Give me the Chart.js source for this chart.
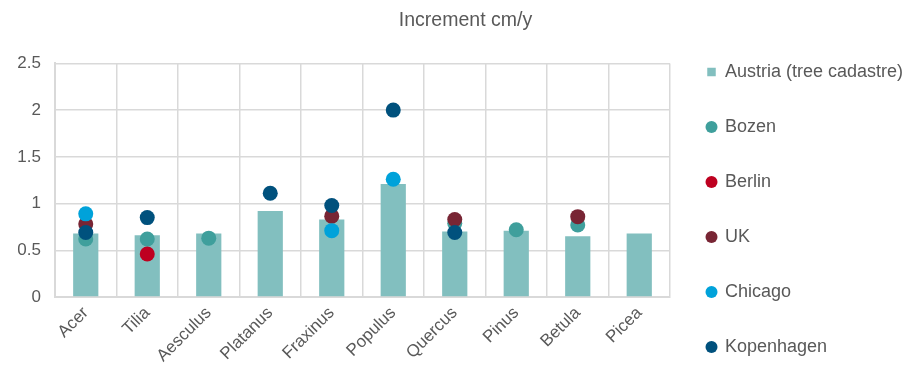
<!DOCTYPE html>
<html>
<head>
<meta charset="utf-8">
<script src="https://cdn.jsdelivr.net/npm/chart.js@4"></script>
<style>
  html, body { margin: 0; padding: 0; background: #ffffff; }
  #wrap { width: 907px; height: 374px; }
</style>
</head>
<body>
<div id="wrap"><canvas id="c" width="907" height="374"></canvas></div>
<script>
// Tree genera on the x axis
const genera = ['Acer', 'Tilia', 'Aesculus', 'Platanus', 'Fraxinus', 'Populus', 'Quercus', 'Pinus', 'Betula', 'Picea'];

// Mean diameter increment, cm per year
const austria    = [0.68, 0.66, 0.68, 0.92, 0.83, 1.21, 0.70, 0.71, 0.65, 0.68];
const bozen      = [0.62, 0.62, 0.63, null, null, null, 0.79, 0.72, 0.77, null];
const berlin     = [null, 0.46, null, null, null, null, null, null, null, null];
const uk         = [0.78, null, null, null, 0.865, null, 0.83, null, 0.86, null];
const chicago    = [0.89, null, null, null, 0.71, 1.26, null, null, null, null];
const kopenhagen = [0.69, 0.85, null, 1.11, 0.98, 2.00, 0.69, null, null, null];

const yTicks = [0, 0.5, 1, 1.5, 2, 2.5];

const textColor = '#595959';
const gridColor = '#D9D9D9';
const fontFamily = 'Liberation Sans, Arial, sans-serif';

// Later series sit on top of earlier ones (lower order is drawn last)
function pointSeries(label, data, color, order) {
  return {
    type: 'line',
    label: label,
    data: data,
    order: order,
    showLine: false,
    pointStyle: 'circle',
    pointRadius: 7.5,
    pointHoverRadius: 7.5,
    pointBackgroundColor: color,
    pointBorderWidth: 0,
    backgroundColor: color,
    borderColor: color,
    borderWidth: 0
  };
}

// Centre the title a little right of the canvas middle
const titleShift = {
  id: 'titleShift',
  afterLayout(chart) {
    const t = chart.titleBlock;
    if (t) { t.left += 24; }
  }
};

new Chart(document.getElementById('c'), {
  type: 'bar',
  plugins: [titleShift],
  data: {
    labels: genera,
    datasets: [
      {
        type: 'bar',
        label: 'Austria (tree cadastre)',
        data: austria,
        order: 6,
        backgroundColor: '#82BFBF',
        borderWidth: 0,
        pointStyle: 'rect',
        barPercentage: 0.41,
        categoryPercentage: 1.0
      },
      pointSeries('Bozen', bozen, '#3F9F9C', 5),
      pointSeries('Berlin', berlin, '#BE0020', 4),
      pointSeries('UK', uk, '#782534', 3),
      pointSeries('Chicago', chicago, '#00A2DA', 2),
      pointSeries('Kopenhagen', kopenhagen, '#00517D', 1)
    ]
  },
  options: {
    responsive: false,
    animation: false,
    // the extra room below lets the legend column hang lower than the plot
    layout: { padding: { top: 0, right: 0, bottom: -45, left: 0 } },
    plugins: {
      title: {
        display: true,
        text: 'Increment cm/y',
        color: textColor,
        font: { family: fontFamily, size: 19.5, weight: 'normal' },
        padding: { top: 9, bottom: 31 }
      },
      legend: {
        position: 'right',
        align: 'center',
        maxWidth: 237,
        labels: {
          usePointStyle: true,
          boxWidth: 9,
          boxHeight: 8.5,
          padding: 37,
          color: textColor,
          font: { family: fontFamily, size: 18 },
          sort: (a, b) => a.datasetIndex - b.datasetIndex
        }
      },
      tooltip: { enabled: false }
    },
    scales: {
      x: {
        grid: { color: gridColor, lineWidth: 1.5, offset: true, drawTicks: false },
        border: { color: gridColor, width: 2 },
        ticks: {
          color: textColor,
          font: { family: fontFamily, size: 17 },
          maxRotation: 45,
          minRotation: 45,
          padding: 6
        },
        afterFit: s => { s.height = 122; }
      },
      y: {
        min: 0,
        max: 2.5,
        afterBuildTicks: s => { s.ticks = yTicks.map(v => ({ value: v })); },
        grid: { color: gridColor, lineWidth: 1.5, drawTicks: false },
        border: { color: gridColor, width: 2 },
        ticks: {
          color: textColor,
          font: { family: fontFamily, size: 17 },
          padding: 14,
          callback: v => String(v)
        },
        afterFit: s => { s.width = 55; }
      }
    }
  }
});
</script>
</body>
</html>
